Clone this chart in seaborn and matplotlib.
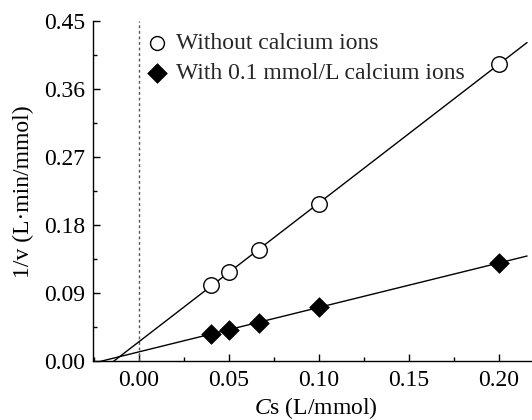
import numpy as np
import pandas as pd
import matplotlib
matplotlib.use("Agg")
import matplotlib.pyplot as plt
import seaborn as sns
from matplotlib.ticker import MultipleLocator

cs = [0.04, 0.05, 0.0667, 0.10, 0.20]
without_ca = [0.101, 0.118, 0.147, 0.208, 0.394]
with_ca = [0.036, 0.042, 0.051, 0.072, 0.130]
series_names = ["Without calcium ions", "With 0.1 mmol/L calcium ions"]
x_ticks = [0.00, 0.05, 0.10, 0.15, 0.20]
y_ticks = [0.00, 0.09, 0.18, 0.27, 0.36, 0.45]

sns.set_style("ticks")
plt.rcParams["font.family"] = ["Liberation Serif", "DejaVu Serif"]
plt.rcParams["mathtext.fontset"] = "custom"
plt.rcParams["mathtext.rm"] = "Liberation Serif"
plt.rcParams["mathtext.it"] = "Liberation Serif:italic"

FS = 17

df = pd.DataFrame({
    "Cs": cs * 2,
    "inv_v": without_ca + with_ca,
    "group": [series_names[0]] * len(cs) + [series_names[1]] * len(cs),
})

fig = plt.figure(figsize=(5.32, 4.20), dpi=100)
ax = fig.add_axes([0.1754, 0.1398, 0.837, 0.8095])

# fitted lines
xfit = np.linspace(-0.03, 0.2156, 50)
for ys in (without_ca, with_ca):
    k, b = np.polyfit(cs, ys, 1)
    sns.lineplot(x=xfit, y=k * xfit + b, ax=ax, color="black", lw=1.0,
                 legend=False, zorder=2)

ax.axvline(0, color="#555555", ls=(0, (2, 2)), lw=1.0, zorder=1)

sns.scatterplot(data=df[df.group == series_names[0]], x="Cs", y="inv_v", ax=ax,
                marker="o", s=125, facecolor="white", edgecolor="black",
                linewidth=1.0, zorder=3, label=series_names[0])
sns.scatterplot(data=df[df.group == series_names[1]], x="Cs", y="inv_v", ax=ax,
                marker="D", s=100, color="black", edgecolor="black",
                linewidth=0.5, zorder=3, label=series_names[1])

ax.set_xlim(-0.0253, 0.222)
ax.set_ylim(0, 0.45)
ax.set_xticks(x_ticks)
ax.set_yticks(y_ticks)
ax.set_xticklabels([f"{t:.2f}" for t in x_ticks])
ax.set_yticklabels([f"{t:.2f}" for t in y_ticks])
ax.xaxis.set_minor_locator(MultipleLocator(0.025))
ax.yaxis.set_minor_locator(MultipleLocator(0.045))
ax.tick_params(which="major", direction="in", length=5, width=1.0,
               labelsize=FS, color="black", labelcolor="black", pad=6)
ax.tick_params(which="minor", direction="in", length=3, width=1.0, color="black")
ax.tick_params(axis="x", which="both", top=False)
ax.tick_params(axis="y", which="both", right=False)

sns.despine(ax=ax, top=True, right=True)
for s in ("left", "bottom"):
    ax.spines[s].set_color("black")
    ax.spines[s].set_linewidth(1.0)

ax.set_xlabel("$C$s (L/mmol)", fontsize=FS, color="black", labelpad=3)
ax.set_ylabel("1/v (L·min/mmol)", fontsize=FS, color="black", labelpad=7)

leg = ax.legend(loc="upper left", bbox_to_anchor=(0.096, 0.995), frameon=False,
                fontsize=FS, handletextpad=0.3, labelspacing=0.36,
                borderaxespad=0, handlelength=1.0)
for h in leg.legend_handles:
    h.set_sizes([100])

fig.savefig("out.png", dpi=100)
